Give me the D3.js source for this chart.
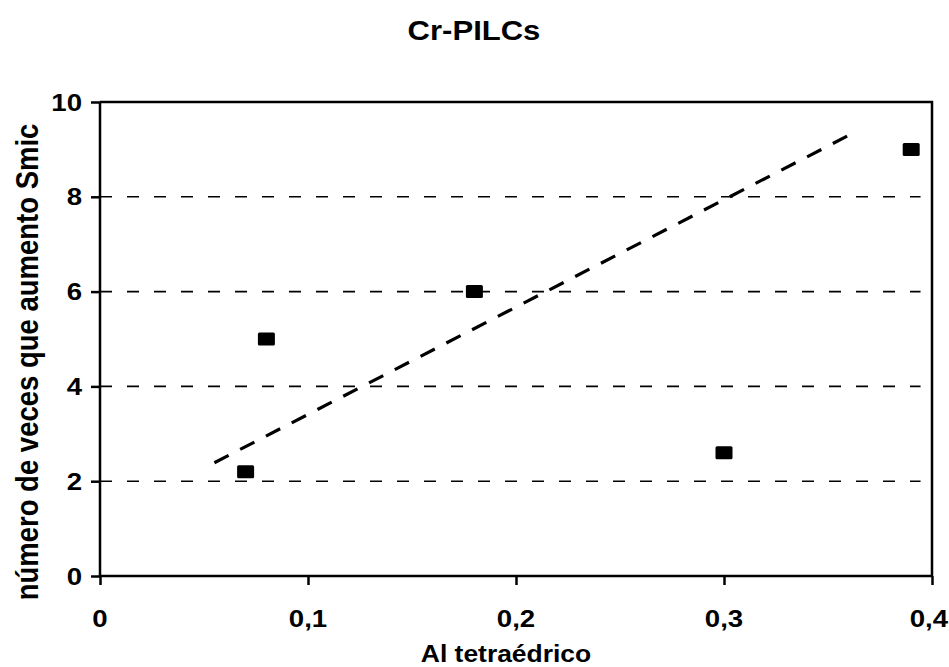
<!DOCTYPE html>
<html>
<head>
<meta charset="utf-8">
<script src="https://cdn.jsdelivr.net/npm/d3@7/dist/d3.min.js"></script>
<style>
  html, body { margin: 0; padding: 0; background: #fff; }
  svg { display: block; }
  text { font-family: "Liberation Sans", Arial, Helvetica, sans-serif; font-weight: bold; fill: #000; }
</style>
</head>
<body>
<svg id="chart" width="949" height="667"></svg>
<script>
// Data: Al tetraédrico vs. número de veces que aumenta Smic
const alTetra = [0.07, 0.08, 0.18, 0.30, 0.39];
const smicFactor = [2.2, 5.0, 6.0, 2.6, 9.0];
// Trend line end points [x, y]
const trendX = [0.055, 0.361];
const trendY = [2.39, 9.32];
const xTicks = [0, 0.1, 0.2, 0.3, 0.4];
const xTickLabels = ["0", "0,1", "0,2", "0,3", "0,4"];
const yTicks = [0, 2, 4, 6, 8, 10];
const yGrid = [2, 4, 6, 8];
const titleText = "Cr-PILCs";
const xLabel = "Al tetraédrico";
const yLabel = "número de veces que aumento Smic";

const W = 949;
const svg = d3.select("#chart");
const plot = { left: 100, right: 932, top: 102, bottom: 576 };
const stretch = 1.15; // wide lettering

const x = d3.scaleLinear().domain([0, 0.4]).range([plot.left, plot.right]);
const y = d3.scaleLinear().domain([0, 10]).range([plot.bottom, plot.top]);

function label(g, tx, ty, str, size, anchor, rot) {
  const t = g.append("g")
    .attr("transform", `translate(${tx},${ty}) scale(${stretch},1)` + (rot ? ` rotate(${rot})` : ""));
  t.append("text")
    .attr("text-anchor", anchor)
    .attr("font-size", size)
    .text(str);
  return t;
}

// Horizontal dashed gridlines
svg.append("g").selectAll("line").data(yGrid).join("line")
  .attr("x1", plot.left).attr("x2", x(0.3945))
  .attr("y1", d => y(d)).attr("y2", d => y(d))
  .attr("stroke", "#000").attr("stroke-width", 1.6)
  .attr("stroke-dasharray", "12,15");

// Plot frame (top and right)
svg.append("path")
  .attr("d", `M${plot.left},${plot.top}H${plot.right}V${plot.bottom}`)
  .attr("fill", "none").attr("stroke", "#000").attr("stroke-width", 2.5);

// X axis
const xAxis = d3.axisBottom(x).tickValues(xTicks).tickSize(9).tickFormat("");
const gx = svg.append("g").attr("transform", `translate(0,${plot.bottom})`).call(xAxis);
gx.select(".domain").attr("stroke-width", 2.5).attr("d", `M${plot.left},0H${plot.right}`);
gx.selectAll(".tick line").attr("stroke-width", 2.5);

// Y axis
const yAxis = d3.axisLeft(y).tickValues(yTicks).tickSize(9).tickFormat("");
const gy = svg.append("g").attr("transform", `translate(${plot.left},0)`).call(yAxis);
gy.select(".domain").attr("stroke-width", 2.5).attr("d", `M0,${plot.top}V${plot.bottom}`);
gy.selectAll(".tick line").attr("stroke-width", 2.5);

// Tick labels (the last x label is kept inside the right edge)
const labels = svg.append("g");
xTicks.forEach((v, i) => {
  const last = i === xTicks.length - 1;
  label(labels, last ? W - 1 : x(v), 627, xTickLabels[i], 24, last ? "end" : "middle");
});
yTicks.forEach(v => label(labels, 82, y(v) + 8.5, String(v), 24, "end"));

// Trend line
svg.append("line")
  .attr("x1", x(trendX[0])).attr("y1", y(trendY[0]))
  .attr("x2", x(trendX[1])).attr("y2", y(trendY[1]))
  .attr("stroke", "#000").attr("stroke-width", 3.2)
  .attr("stroke-dasharray", "16,13");

// Data markers
svg.append("g").selectAll("rect").data(alTetra.map((d, i) => [d, smicFactor[i]])).join("rect")
  .attr("x", d => x(d[0]) - 8.5).attr("y", d => y(d[1]) - 6.5)
  .attr("width", 17).attr("height", 13).attr("rx", 1.5)
  .attr("fill", "#000");

// Titles
label(svg, 474, 40, titleText, 27, "middle");
label(svg, 506, 662, xLabel, 23, "middle");
label(svg, 38, 362, yLabel, 27.5, "middle", -90);
</script>
</body>
</html>
